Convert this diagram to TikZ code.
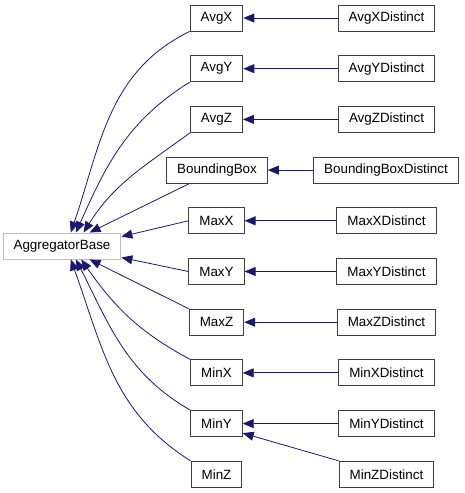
\documentclass[tikz,border=0pt]{standalone}
\usepackage{fontspec}
\setmainfont{Liberation Sans}
\usepackage{xcolor}
\usetikzlibrary{arrows.meta}
\definecolor{edgeblue}{HTML}{191970}

\begin{document}
\begin{tikzpicture}[x=1pt,y=1pt,
  font=\fontsize{13.4}{15}\selectfont,
  cls/.style={draw=black!75, line width=0.9pt, fill=white,
    minimum height=26pt, inner xsep=10.5pt, inner ysep=0pt},
  basecls/.style={cls, draw=black!25},
  inh/.style={draw=edgeblue, line width=0.8pt,
    -{Triangle[length=11pt,width=9pt,fill=edgeblue]}}]
\useasboundingbox (0,0) rectangle (464,493);

% ========= left: base class =========
\node[basecls] (base) at (62,247) {AggregatorBase};

% ========= middle column: x=216.5 =========
\node[cls] (avgx) at (216.5,475)   {AvgX};
\node[cls] (avgy) at (216.5,424.3) {AvgY};
\node[cls] (avgz) at (216.5,373.6) {AvgZ};
\node[cls] (bbox) at (217,322.9)   {BoundingBox};
\node[cls] (maxx) at (216.5,272.2) {MaxX};
\node[cls] (maxy) at (216.5,221.5) {MaxY};
\node[cls] (maxz) at (216.5,170.8) {MaxZ};
\node[cls] (minx) at (216.5,120.1) {MinX};
\node[cls] (miny) at (216.5,69.4)  {MinY};
\node[cls] (minz) at (216.5,18.7)  {MinZ};

% ========= right column: x=386.5 =========
\node[cls] (avgxd) at (386.5,475)   {AvgXDistinct};
\node[cls] (avgyd) at (386.5,424.3) {AvgYDistinct};
\node[cls] (avgzd) at (386.5,373.6) {AvgZDistinct};
\node[cls] (bboxd) at (386,322.9)   {BoundingBoxDistinct};
\node[cls] (maxxd) at (386.5,272.2) {MaxXDistinct};
\node[cls] (maxyd) at (386.5,221.5) {MaxYDistinct};
\node[cls] (maxzd) at (386.5,170.8) {MaxZDistinct};
\node[cls] (minxd) at (386.5,120.1) {MinXDistinct};
\node[cls] (minyd) at (386.5,69.4)  {MinYDistinct};
\node[cls] (minzd) at (386.5,18.7)  {MinZDistinct};

% ========= middle -> base =========
\draw[inh] (avgx.south west) to[out=206,in=71] (base.57);
\draw[inh] (avgy.south west) to[out=212,in=66] (base.44);
\draw[inh] (avgz.south west) to[out=216,in=58] (base.32);
\draw[inh] (bbox.206) -- (base.26);
\draw[inh] (maxx.west) -- (base.9);
\draw[inh] (maxy.west) -- (base.-11);
\draw[inh] (maxz.north west) -- (base.-26);
\draw[inh] (minx.north west) to[out=152,in=-55] (base.-35);
\draw[inh] (miny.north west) to[out=150,in=-63] (base.-44);
\draw[inh] (minz.north west) to[out=148,in=-70] (base.-57);

% ========= right -> middle =========
\draw[inh] (avgxd) -- (avgx);
\draw[inh] (avgyd) -- (avgy);
\draw[inh] (avgzd) -- (avgz);
\draw[inh] (bboxd) -- (bbox);
\draw[inh] (maxxd) -- (maxx);
\draw[inh] (maxyd) -- (maxy);
\draw[inh] (maxzd) -- (maxz);
\draw[inh] (minxd) -- (minx);
\draw[inh] (minyd) -- (miny);
\draw[inh] (minzd.north west) -- (miny.-20);
\end{tikzpicture}
\end{document}
